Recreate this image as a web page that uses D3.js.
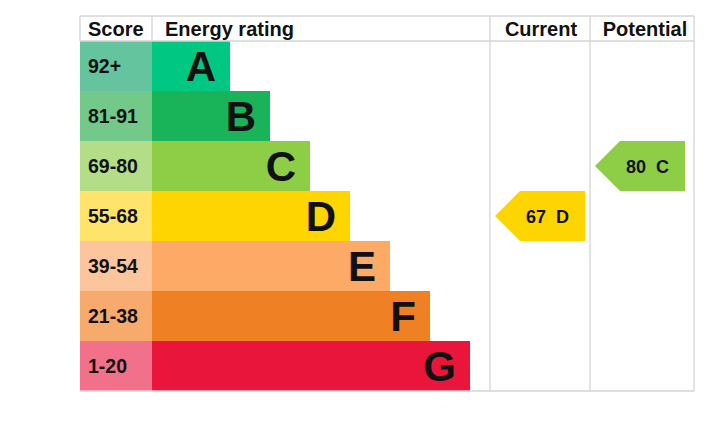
<!DOCTYPE html>
<html><head><meta charset="utf-8">
<script src="https://cdn.jsdelivr.net/npm/d3@7"></script>
<style>body{margin:0;background:#fff;} svg text{font-family:"Liberation Sans",Arial,sans-serif;}</style>
</head><body><svg id="c" width="706" height="424"></svg>
<script>
const bands = ["A","B","C","D","E","F","G"];
const scoreLabels = ["92+","81-91","69-80","55-68","39-54","21-38","1-20"];
const bandRank = [1,2,3,4,5,6,7];
const barColors = ["#00c781","#19b459","#8dce46","#ffd500","#fcaa65","#ef8023","#e9153b"];
const scoreColors = ["#63c49d","#72c98a","#b4dd87","#ffe46b","#fdc59b","#f6aa6c","#f2718a"];
const headers = ["Score","Energy rating","Current","Potential"];
const current = {score: 67, band: "D"};
const potential = {score: 80, band: "C"};

const svg = d3.select("#c");
const L = 80, R = 694, T = 16, headH = 25, rowH = 50;
const colScoreEnd = 152, colCur = 490, colPot = 590;

const y = d3.scaleBand().domain(bands).range([T+headH, T+headH+rowH*bands.length]).padding(0);
const x = d3.scaleLinear().domain([1,7]).range([230,470]);
const B = T+headH+rowH*bands.length;

svg.selectAll("rect.sc").data(bands).join("rect")
  .attr("x", L).attr("y", d=>y(d)).attr("width", colScoreEnd-L).attr("height", y.bandwidth())
  .attr("fill", (d,i)=>scoreColors[i]);
svg.selectAll("rect.bar").data(bands).join("rect")
  .attr("x", colScoreEnd).attr("y", d=>y(d)).attr("width", (d,i)=>x(bandRank[i])-colScoreEnd).attr("height", y.bandwidth())
  .attr("fill", (d,i)=>barColors[i]);
svg.selectAll("text.sc").data(bands).join("text")
  .attr("x", 88).attr("y", d=>y(d)+y.bandwidth()/2+7)
  .attr("font-size", 19.5).attr("font-weight","bold").attr("fill","#111")
  .text((d,i)=>scoreLabels[i]);
svg.selectAll("text.lt").data(bands).join("text")
  .attr("x", (d,i)=>x(bandRank[i])-14).attr("y", d=>y(d)+y.bandwidth()/2+15)
  .attr("text-anchor","end").attr("font-size", 42).attr("font-weight","bold").attr("fill","#111")
  .text(d=>d);

const g = svg.append("g").attr("stroke","#d4d4d4").attr("stroke-width",1.3);
g.append("line").attr("x1",L).attr("x2",R).attr("y1",T).attr("y2",T);
g.append("line").attr("x1",L).attr("x2",R).attr("y1",T+headH).attr("y2",T+headH);
g.append("line").attr("x1",L).attr("x2",R).attr("y1",B).attr("y2",B);
g.append("line").attr("x1",colScoreEnd).attr("x2",colScoreEnd).attr("y1",T).attr("y2",T+headH);
g.append("line").attr("x1",L).attr("x2",L).attr("y1",T).attr("y2",T+headH);
[colCur,colPot,R].forEach(cx=>g.append("line").attr("x1",cx).attr("x2",cx).attr("y1",T).attr("y2",B));

const hx = [{x:88,a:"start"},{x:165,a:"start"},{x:541,a:"middle"},{x:645,a:"middle"}];
svg.selectAll("text.h").data(headers).join("text")
  .attr("x",(d,i)=>hx[i].x).attr("text-anchor",(d,i)=>hx[i].a).attr("y", T+headH/2+7)
  .attr("font-size",20).attr("font-weight","bold").attr("fill","#111").text(d=>d);

function arrow(colX, val){
  const i = bands.indexOf(val.band);
  const y0 = y(val.band), h = y.bandwidth();
  const x0 = colX+5, tip = 25, x1 = colX+95;
  const path = d3.path();
  path.moveTo(x0, y0+h/2); path.lineTo(x0+tip, y0); path.lineTo(x1, y0);
  path.lineTo(x1, y0+h); path.lineTo(x0+tip, y0+h); path.closePath();
  svg.append("path").attr("d", path.toString()).attr("fill", barColors[i]);
  svg.append("text").attr("x",(x0+tip+x1)/2-5).attr("y",y0+h/2+6.5).attr("text-anchor","middle")
    .attr("font-size",18).attr("font-weight","bold").attr("fill","#111").attr("xml:space","preserve")
    .text(val.score+"  "+val.band);
}
arrow(colCur, current);
arrow(colPot, potential);
</script></body></html>
